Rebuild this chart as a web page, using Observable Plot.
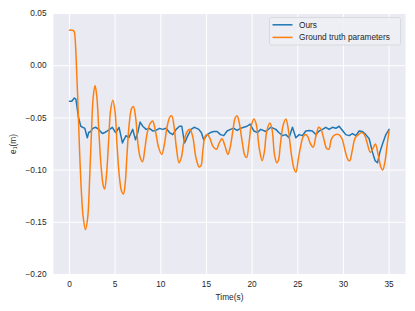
<!DOCTYPE html>
<html><head><meta charset="utf-8">
<script src="https://cdn.jsdelivr.net/npm/d3@7"></script>
<script src="https://cdn.jsdelivr.net/npm/@observablehq/plot@0.6"></script>
<style>body{margin:0;background:#fff} svg{display:block}</style>
</head><body><div id="chart"></div>
<script>
const seriesNames = ["Ours", "Ground truth parameters"];
const seriesColors = ["#1f77b4", "#ff7f0e"];
const xTicks = [0, 5, 10, 15, 20, 25, 30, 35];
const yTicks = [0.05, 0.00, -0.05, -0.10, -0.15, -0.20];

const oursT = [0.0,0.25,0.53,0.7,1.0,1.24,1.45,1.68,1.95,2.1,2.33,2.55,2.88,3.2,3.6,3.87,4.16,4.4,4.7,4.96,5.07,5.43,5.8,5.95,6.2,6.5,6.93,7.23,7.48,7.73,8.03,8.39,8.74,9.12,9.45,9.86,10.2,10.58,10.95,11.31,11.68,12.05,12.3,12.6,12.96,13.32,13.65,13.94,14.16,14.44,14.7,15.07,15.44,15.8,16.17,16.54,16.9,17.26,17.63,18.0,18.36,18.73,19.09,19.45,19.78,20.19,20.59,20.95,21.5,22.05,22.6,22.92,23.33,23.69,24.05,24.42,24.79,25.15,25.52,25.88,26.24,26.6,26.98,27.34,27.71,28.07,28.43,28.8,29.17,29.53,29.9,30.26,30.62,31.0,31.36,31.72,32.09,32.45,32.82,33.19,33.47,33.73,33.99,34.28,34.65,35.0];
const oursV = [-0.034,-0.034,-0.031,-0.032,-0.050,-0.058,-0.059,-0.060,-0.069,-0.064,-0.063,-0.060,-0.059,-0.061,-0.065,-0.064,-0.0625,-0.061,-0.059,-0.063,-0.064,-0.059,-0.074,-0.071,-0.067,-0.069,-0.061,-0.071,-0.064,-0.054,-0.058,-0.061,-0.060,-0.0625,-0.062,-0.060,-0.061,-0.060,-0.064,-0.066,-0.061,-0.058,-0.058,-0.074,-0.067,-0.061,-0.059,-0.060,-0.061,-0.064,-0.071,-0.066,-0.064,-0.063,-0.063,-0.066,-0.067,-0.0625,-0.061,-0.060,-0.062,-0.060,-0.059,-0.058,-0.056,-0.0625,-0.064,-0.061,-0.063,-0.059,-0.061,-0.064,-0.067,-0.066,-0.069,-0.059,-0.069,-0.066,-0.067,-0.0625,-0.062,-0.0625,-0.066,-0.0625,-0.061,-0.059,-0.061,-0.059,-0.060,-0.058,-0.062,-0.066,-0.067,-0.065,-0.067,-0.0625,-0.063,-0.066,-0.070,-0.083,-0.091,-0.093,-0.083,-0.075,-0.066,-0.061];

const truthT = [0,0.3,0.5,0.6,0.73,0.9,1.1,1.3,1.5,1.75,2.0,2.2,2.4,2.6,2.8,3.0,3.2,3.45,3.7,3.85,4.05,4.3,4.5,4.75,5.0,5.2,5.45,5.7,5.9,6.1,6.3,6.55,6.8,7.0,7.25,7.5,7.75,8.0,8.25,8.5,8.8,9.1,9.4,9.75,10.1,10.4,10.7,11.0,11.2,11.45,11.7,12.0,12.25,12.55,12.9,13.2,13.5,13.85,14.2,14.4,14.6,14.85,15.1,15.4,15.7,16.1,16.4,16.7,17.0,17.35,17.6,17.9,18.15,18.35,18.6,18.9,19.2,19.4,19.65,19.9,20.2,20.45,20.8,21.1,21.35,21.6,21.95,22.2,22.45,22.7,22.9,23.1,23.4,23.7,23.95,24.3,24.6,24.8,25.05,25.3,25.6,25.85,26.1,26.4,26.7,26.95,27.3,27.55,27.85,28.15,28.4,28.7,29.1,29.5,29.85,30.2,30.5,30.7,30.95,31.3,31.65,32.0,32.3,32.6,32.95,33.2,33.5,33.8,34.1,34.3,34.55,34.8,35.0];
const truthV = [0.034,0.034,0.033,0.028,0.007,-0.030,-0.080,-0.120,-0.145,-0.157,-0.145,-0.110,-0.065,-0.030,-0.019,-0.030,-0.060,-0.095,-0.115,-0.118,-0.105,-0.070,-0.043,-0.033,-0.045,-0.075,-0.105,-0.120,-0.123,-0.113,-0.085,-0.055,-0.041,-0.039,-0.050,-0.075,-0.088,-0.092,-0.080,-0.065,-0.056,-0.053,-0.062,-0.078,-0.085,-0.075,-0.058,-0.049,-0.048,-0.058,-0.078,-0.093,-0.088,-0.072,-0.063,-0.061,-0.068,-0.088,-0.097,-0.096,-0.082,-0.068,-0.066,-0.070,-0.077,-0.080,-0.074,-0.070,-0.076,-0.085,-0.078,-0.062,-0.050,-0.048,-0.055,-0.072,-0.086,-0.088,-0.075,-0.058,-0.051,-0.056,-0.080,-0.091,-0.082,-0.063,-0.055,-0.062,-0.085,-0.093,-0.090,-0.075,-0.057,-0.051,-0.060,-0.085,-0.099,-0.102,-0.090,-0.078,-0.068,-0.066,-0.068,-0.075,-0.078,-0.069,-0.059,-0.061,-0.070,-0.079,-0.080,-0.070,-0.066,-0.066,-0.070,-0.082,-0.090,-0.091,-0.082,-0.069,-0.066,-0.064,-0.066,-0.074,-0.083,-0.080,-0.075,-0.085,-0.097,-0.100,-0.092,-0.075,-0.0625];

const ours = oursT.map((t, i) => ({t, v: oursV[i]}));
const truth = truthT.map((t, i) => ({t, v: truthV[i]}));

const fmt = d => (d < 0 ? "\u2212" : "") + Math.abs(d).toFixed(2);
const font = "'Liberation Sans', Arial, sans-serif";
const fs = "8.3px";

const chart = Plot.plot({
  width: 415, height: 311,
  marginLeft: 53, marginRight: 10, marginTop: 13, marginBottom: 37,
  style: {fontFamily: font, fontSize: fs, color: "#262626", background: "#fff"},
  x: {domain: [-1.75, 36.8], ticks: xTicks, tickSize: 0, tickPadding: 7, tickFormat: d => String(d),
      label: "Time(s)", labelAnchor: "center", labelArrow: "none", labelOffset: 25},
  y: {domain: [-0.20, 0.05], ticks: yTicks, tickSize: 0, tickPadding: 7, tickFormat: fmt,
      label: "e\u2081(m)", labelAnchor: "center", labelArrow: "none", labelOffset: 43},
  marks: [
    Plot.frame({fill: "#eaeaf2", stroke: null}),
    Plot.gridX(xTicks, {stroke: "#fff", strokeOpacity: 1, strokeWidth: 1}),
    Plot.gridY(yTicks, {stroke: "#fff", strokeOpacity: 1, strokeWidth: 1}),
    Plot.line(ours, {x: "t", y: "v", stroke: seriesColors[0], strokeWidth: 1.5}),
    Plot.line(truth, {x: "t", y: "v", stroke: seriesColors[1], strokeWidth: 1.5, curve: "catmull-rom"})
  ]
});
document.getElementById("chart").appendChild(chart);

// legend (upper right, inside the axes)
const svg = d3.select(chart);
const lg = svg.append("g").attr("transform", "translate(269.5,17.5)");
lg.append("rect").attr("width", 131).attr("height", 27.5).attr("rx", 2)
  .attr("fill", "#eeeef5").attr("fill-opacity", 0.9).attr("stroke", "#d4d4da").attr("stroke-width", 0.8);
seriesNames.forEach((name, i) => {
  const y = 7.3 + i * 12.6;
  lg.append("line").attr("x1", 3).attr("x2", 23).attr("y1", y).attr("y2", y)
    .attr("stroke", seriesColors[i]).attr("stroke-width", 1.5);
  lg.append("text").attr("x", 29.5).attr("y", y).attr("dy", "0.35em")
    .attr("text-anchor", "start")
    .attr("font-family", font).attr("font-size", fs).attr("fill", "#262626").text(name);
});
</script>
</body></html>
